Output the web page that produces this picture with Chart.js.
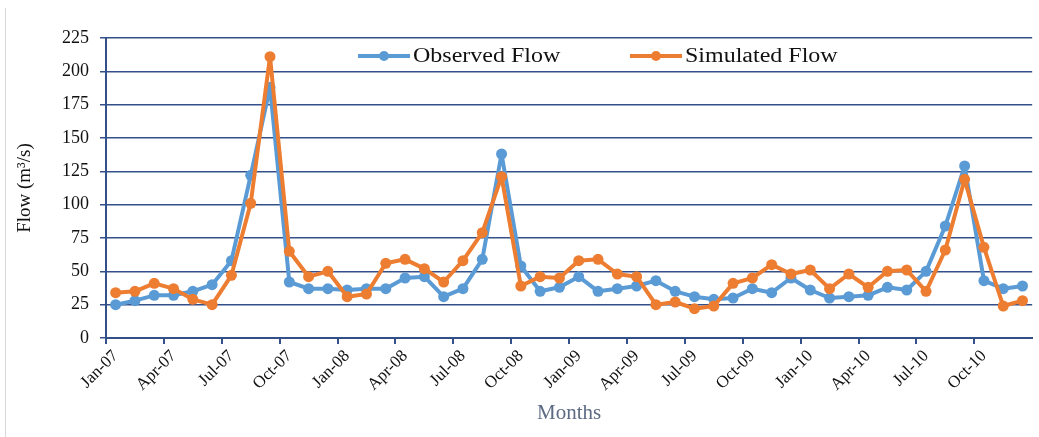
<!DOCTYPE html>
<html>
<head>
<meta charset="utf-8">
<script src="https://cdn.jsdelivr.net/npm/chart.js@4.4.0/dist/chart.umd.min.js"></script>
<style>
  html, body { margin: 0; padding: 0; background: #ffffff; }
  #wrap { position: relative; width: 1039px; height: 437px; }
  #frame { position: absolute; left: 5px; top: 8px; width: 1px; height: 429px; background: #d8d8d8; }
</style>
</head>
<body>
<div id="wrap">
  <div id="frame"></div>
  <canvas id="flow-chart" width="1039" height="437"></canvas>
</div>
<script>
// Months Jan-07 .. Dec-10
const months = [
  'Jan-07','Feb-07','Mar-07','Apr-07','May-07','Jun-07','Jul-07','Aug-07','Sep-07','Oct-07','Nov-07','Dec-07',
  'Jan-08','Feb-08','Mar-08','Apr-08','May-08','Jun-08','Jul-08','Aug-08','Sep-08','Oct-08','Nov-08','Dec-08',
  'Jan-09','Feb-09','Mar-09','Apr-09','May-09','Jun-09','Jul-09','Aug-09','Sep-09','Oct-09','Nov-09','Dec-09',
  'Jan-10','Feb-10','Mar-10','Apr-10','May-10','Jun-10','Jul-10','Aug-10','Sep-10','Oct-10','Nov-10','Dec-10'
];

// Observed flow, m3/s
const observedFlow = [
  25, 28, 32, 32, 35, 40, 58, 122, 188, 42, 37, 37,
  36, 37, 37, 45, 46, 31, 37, 59, 138, 54, 35, 38,
  46, 35, 37, 39, 43, 35, 31, 29, 30, 37, 34, 45,
  36, 30, 31, 32, 38, 36, 50, 84, 129, 43, 37, 39
];

// Simulated flow, m3/s
const simulatedFlow = [
  34, 35, 41, 37, 29, 25, 47, 101, 211, 65, 46, 50,
  31, 33, 56, 59, 52, 42, 58, 79, 121, 39, 46, 45,
  58, 59, 48, 46, 25, 27, 22, 24, 41, 45, 55, 48,
  51, 37, 48, 38, 50, 51, 35, 66, 119, 68, 24, 28
];

const yTicks = [0, 25, 50, 75, 100, 125, 150, 175, 200, 225];

const BLUE = '#5B9BD5';
const ORANGE = '#ED7D31';
const NAVY = '#34508a';
const SERIF = "'Liberation Serif', 'DejaVu Serif', serif";

// legend drawn inside the plot, line + dot like Excel
const insideLegend = {
  id: 'insideLegend',
  afterDraw(chart) {
    const ctx = chart.ctx;
    const area = chart.chartArea;
    const y = area.top + 18;
    const items = [
      { x: area.left + 252, ds: chart.data.datasets[0] },
      { x: area.left + 524, ds: chart.data.datasets[1] }
    ];
    ctx.save();
    ctx.textBaseline = 'middle';
    items.forEach(it => {
      ctx.strokeStyle = it.ds.borderColor;
      ctx.lineWidth = 4;
      ctx.beginPath();
      ctx.moveTo(it.x, y);
      ctx.lineTo(it.x + 52, y);
      ctx.stroke();
      ctx.fillStyle = it.ds.borderColor;
      ctx.beginPath();
      ctx.arc(it.x + 26, y, 5, 0, Math.PI * 2);
      ctx.fill();
      // text in the source is a bit wider than Times, stretch it slightly
      ctx.save();
      ctx.translate(it.x + 55, y + 1);
      ctx.scale(1.2, 1);
      ctx.font = '20px ' + SERIF;
      ctx.fillStyle = '#111111';
      ctx.fillText(it.ds.label, 0, 0);
      ctx.restore();
    });
    ctx.restore();
  }
};

new Chart(document.getElementById('flow-chart'), {
  type: 'line',
  data: {
    labels: months,
    datasets: [
      {
        label: 'Observed Flow',
        data: observedFlow,
        borderColor: BLUE,
        backgroundColor: BLUE,
        borderWidth: 4,
        borderJoinStyle: 'round',
        pointRadius: 5.5,
        pointBorderWidth: 0,
        tension: 0,
        order: 2
      },
      {
        label: 'Simulated Flow',
        data: simulatedFlow,
        borderColor: ORANGE,
        backgroundColor: ORANGE,
        borderWidth: 4,
        borderJoinStyle: 'round',
        pointRadius: 5.5,
        pointBorderWidth: 0,
        tension: 0,
        order: 1
      }
    ]
  },
  options: {
    responsive: false,
    animation: false,
    layout: { padding: { top: 38, right: 1, left: 0, bottom: 0 } },
    plugins: {
      legend: { display: false },
      tooltip: { enabled: false }
    },
    scales: {
      x: {
        offset: true,
        grid: {
          offset: true,
          drawOnChartArea: false,
          drawTicks: true,
          tickLength: 6,
          color: ctx => (ctx.index % 3 === 0 ? NAVY : 'rgba(0,0,0,0)'),
          lineWidth: 2
        },
        border: { color: NAVY, width: 2 },
        ticks: {
          autoSkip: false,
          minRotation: 45,
          maxRotation: 45,
          padding: 2,
          color: '#111111',
          font: { family: SERIF, size: 17 },
          callback: function (v, i) { return i % 3 === 0 ? months[i] : ''; }
        },
        title: {
          display: true,
          text: 'Months',
          color: '#5d6b85',
          font: { family: SERIF, size: 21 },
          padding: { top: 0, bottom: 11 }
        },
        afterFit: s => { s.height = 99; }
      },
      y: {
        min: 0,
        max: 225,
        afterBuildTicks: s => { s.ticks = yTicks.map(v => ({ value: v })); },
        grid: { color: NAVY, lineWidth: 1.5, tickLength: 6 },
        border: { color: NAVY, width: 2 },
        ticks: {
          padding: 11,
          color: '#111111',
          font: { family: SERIF, size: 18 }
        },
        title: {
          display: true,
          text: 'Flow (m³/s)',
          color: '#111111',
          font: { family: SERIF, size: 19 },
          padding: { top: 14, bottom: 0 }
        },
        afterFit: s => { s.width = 106; }
      }
    }
  },
  plugins: [insideLegend]
});
</script>
</body>
</html>
